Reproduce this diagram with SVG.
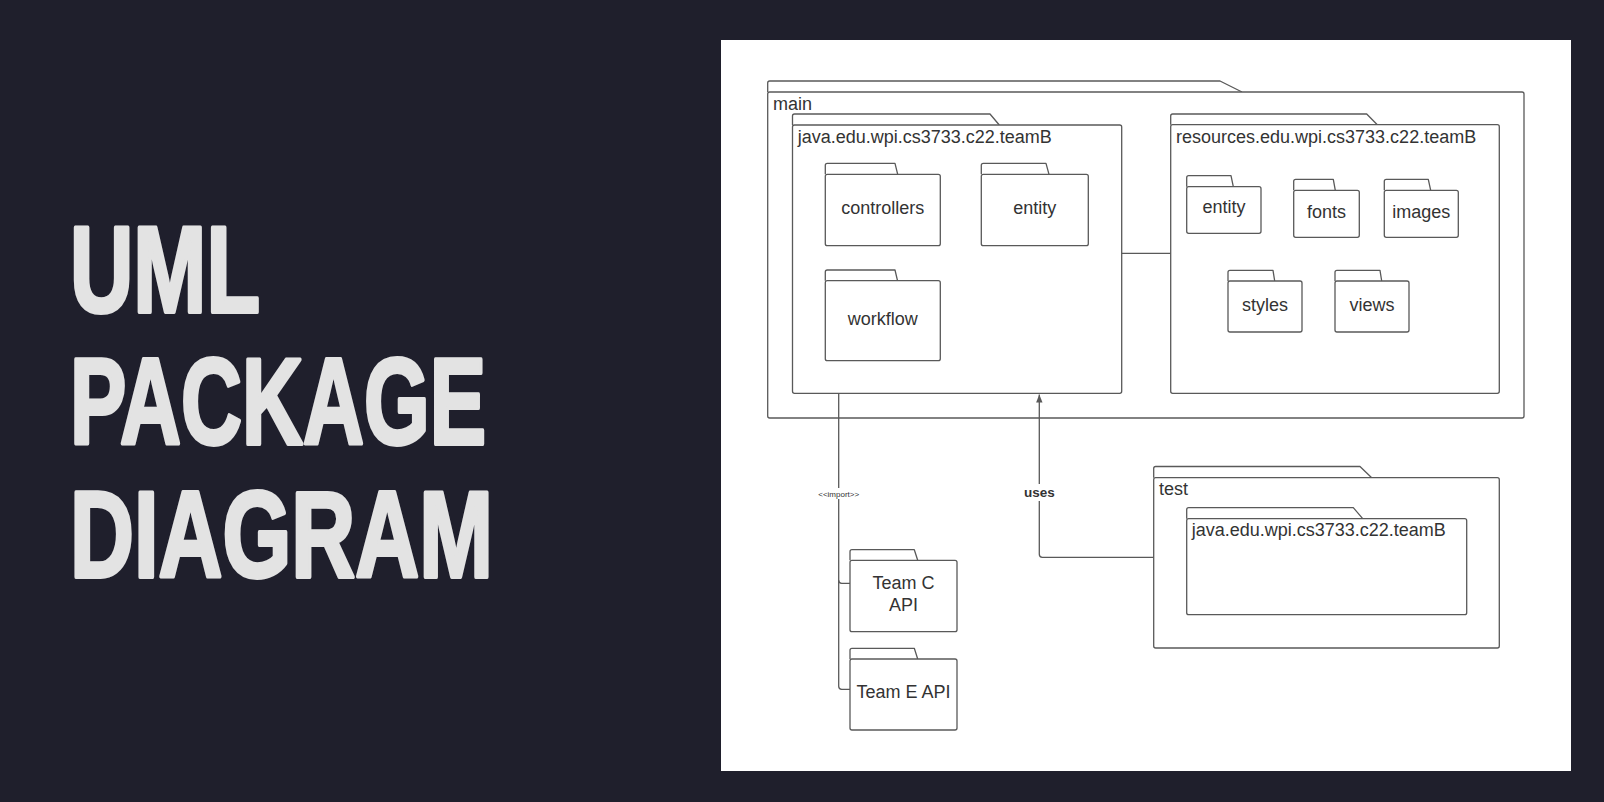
<svg xmlns="http://www.w3.org/2000/svg" width="1604" height="802" viewBox="0 0 1604 802">
<style>
.ln{fill:none;stroke:#595959;stroke-width:1.3;stroke-linejoin:round}
.bd{fill:#ffffff;stroke:#595959;stroke-width:1.3}
.lbl{font-family:"Liberation Sans",Arial,sans-serif;font-size:18px;fill:#333333}
.ctr{text-anchor:middle}
.title{font-family:"Liberation Sans",Arial,sans-serif;font-weight:bold;font-size:122px;fill:#e3e3e3;stroke:#e3e3e3;stroke-width:4;stroke-linejoin:round}
</style>
<defs>
<marker id="arr" viewBox="0 0 10 10" refX="10" refY="5" markerWidth="8" markerHeight="8" markerUnits="userSpaceOnUse" orient="auto">
<path d="M0,1 L10,5 L0,9 Z" fill="#595959"/>
</marker>
</defs>
<rect x="0" y="0" width="1604" height="802" fill="#1f1f2c"/>
<g id="title">
<text class="title" x="70" y="311.5" textLength="190" lengthAdjust="spacingAndGlyphs">UML</text>
<text class="title" x="70" y="444" textLength="416" lengthAdjust="spacingAndGlyphs">PACKAGE</text>
<text class="title" x="70" y="576.5" textLength="423" lengthAdjust="spacingAndGlyphs">DIAGRAM</text>
</g>
<rect x="721" y="40" width="850" height="731" fill="#ffffff"/>

<g id="main">
<path class="ln" d="M767.7,92 V83 Q767.7,81 769.7,81 H1220 L1242,92"/>
<rect class="bd" x="767.7" y="92" width="756.3" height="326" rx="2"/>
<text class="lbl" x="773" y="110">main</text>
</g>

<g id="java-main">
<path class="ln" d="M792.5,125 V116 Q792.5,114 794.5,114 H990 L999.3,125"/>
<rect class="bd" x="792.5" y="125" width="329.2" height="268.3" rx="2"/>
<text class="lbl" x="797.7" y="143.3">java.edu.wpi.cs3733.c22.teamB</text>
</g>

<g id="controllers">
<path class="ln" d="M825.3,174.3 V165.3 Q825.3,163.3 827.3,163.3 H895 L897.7,174.3"/>
<rect class="bd" x="825.3" y="174.3" width="115" height="71.4" rx="2"/>
<text class="lbl ctr" x="882.8" y="214">controllers</text>
</g>

<g id="entity-java">
<path class="ln" d="M981.3,174.3 V165.3 Q981.3,163.3 983.3,163.3 H1046 L1049,174.3"/>
<rect class="bd" x="981.3" y="174.3" width="107" height="71.4" rx="2"/>
<text class="lbl ctr" x="1034.8" y="214">entity</text>
</g>

<g id="workflow">
<path class="ln" d="M825.3,280.7 V272 Q825.3,270 827.3,270 H895 L897.5,280.7"/>
<rect class="bd" x="825.3" y="280.7" width="115" height="80" rx="2"/>
<text class="lbl ctr" x="882.8" y="325">workflow</text>
</g>

<g id="resources">
<path class="ln" d="M1170.7,124.7 V116 Q1170.7,114 1172.7,114 H1366.7 L1377.3,124.7"/>
<rect class="bd" x="1170.7" y="124.7" width="328.6" height="268.6" rx="2"/>
<text class="lbl" x="1176" y="142.7">resources.edu.wpi.cs3733.c22.teamB</text>
</g>

<g id="entity-res">
<path class="ln" d="M1186.7,186.7 V177.7 Q1186.7,175.7 1188.7,175.7 H1231 L1233.3,186.7"/>
<rect class="bd" x="1186.7" y="186.7" width="74.3" height="46.6" rx="2"/>
<text class="lbl ctr" x="1224" y="213.3">entity</text>
</g>

<g id="fonts">
<path class="ln" d="M1293.7,190.3 V181.3 Q1293.7,179.3 1295.7,179.3 H1333.3 L1335.3,190.3"/>
<rect class="bd" x="1293.7" y="190.3" width="65.6" height="47" rx="2"/>
<text class="lbl ctr" x="1326.5" y="218.3">fonts</text>
</g>

<g id="images">
<path class="ln" d="M1384.3,190.3 V181.3 Q1384.3,179.3 1386.3,179.3 H1428.3 L1430.7,190.3"/>
<rect class="bd" x="1384.3" y="190.3" width="74" height="47" rx="2"/>
<text class="lbl ctr" x="1421.3" y="218.3">images</text>
</g>

<g id="styles">
<path class="ln" d="M1228,281 V272.3 Q1228,270.3 1230,270.3 H1273 L1274.7,281"/>
<rect class="bd" x="1228" y="281" width="74" height="51" rx="2"/>
<text class="lbl ctr" x="1265" y="310.7">styles</text>
</g>

<g id="views">
<path class="ln" d="M1335,281 V272.3 Q1335,270.3 1337,270.3 H1380 L1381.7,281"/>
<rect class="bd" x="1335" y="281" width="74" height="51" rx="2"/>
<text class="lbl ctr" x="1372" y="310.7">views</text>
</g>

<g id="team-c">
<path class="ln" d="M850,560.3 V551.7 Q850,549.7 852,549.7 H914.3 L917.7,560.3"/>
<rect class="bd" x="850" y="560.3" width="107" height="71.4" rx="2"/>
<text class="lbl ctr" x="903.5" y="589.3">Team C</text>
<text class="lbl ctr" x="903.5" y="610.7">API</text>
</g>

<g id="team-e">
<path class="ln" d="M850,659 V650.3 Q850,648.3 852,648.3 H914.3 L917.7,659"/>
<rect class="bd" x="850" y="659" width="107" height="71" rx="2"/>
<text class="lbl ctr" x="903.5" y="698.3">Team E API</text>
</g>

<g id="test">
<path class="ln" d="M1153.7,477.7 V468.5 Q1153.7,466.5 1155.7,466.5 H1360 L1371.7,477.7"/>
<rect class="bd" x="1153.7" y="477.7" width="345.6" height="170.3" rx="2"/>
<text class="lbl" x="1159" y="495">test</text>
</g>

<g id="java-test">
<path class="ln" d="M1186.7,518.7 V509.7 Q1186.7,507.7 1188.7,507.7 H1353.3 L1362.7,518.7"/>
<rect class="bd" x="1186.7" y="518.7" width="280" height="96" rx="2"/>
<text class="lbl" x="1191.7" y="536">java.edu.wpi.cs3733.c22.teamB</text>
</g>

<g id="connectors">
<path class="ln" d="M1121.7,253.3 H1170.7"/>
<path class="ln" d="M838.7,393.3 V686.3 Q838.7,689.3 841.7,689.3 H850"/>
<path class="ln" d="M838.7,580.3 Q838.7,583.3 841.7,583.3 H850"/>
<path class="ln" d="M1153.7,557.3 H1042.3 Q1039.3,557.3 1039.3,554.3 V394.5" marker-end="url(#arr)"/>
<rect x="818" y="488" width="41.5" height="11" fill="#ffffff"/>
<text x="838.7" y="496.5" text-anchor="middle" font-family="Liberation Sans, Arial, sans-serif" font-size="8" fill="#333333">&lt;&lt;import&gt;&gt;</text>
<rect x="1023" y="484" width="33" height="17" fill="#ffffff"/>
<text x="1039.3" y="496.7" text-anchor="middle" font-family="Liberation Sans, Arial, sans-serif" font-size="13.5" font-weight="bold" fill="#333333">uses</text>
</g>
</svg>
